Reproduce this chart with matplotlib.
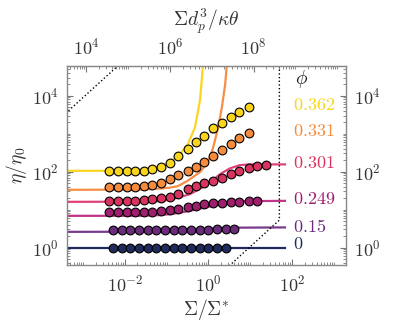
import numpy as np
import matplotlib
matplotlib.use("Agg")
import matplotlib.pyplot as plt
from matplotlib.ticker import LogLocator, NullFormatter, FixedLocator

plt.rcParams['font.family'] = 'serif'
plt.rcParams['font.serif'] = ['cmr10', 'DejaVu Serif']
plt.rcParams['mathtext.fontset'] = 'cm'
plt.rcParams['axes.formatter.use_mathtext'] = True

# volume fractions and colours
phi_labels = ['0', '0.15', '0.249', '0.301', '0.331', '0.362']
colors = ['#1f2b5c', '#6a2b7b', '#9d1f6d', '#d9335f', '#f58b3d', '#f9d51c']
line_colors = ['#1f2b5c', '#7a3a8c', '#c03586', '#e0417a', '#f68f45', '#fbd524']

# measured data, x = Sigma/Sigma*, y = eta/eta0
x_a = [0.0042, 0.0068, 0.0110, 0.0177, 0.0285, 0.0460, 0.0728, 0.120, 0.191,
       0.318, 0.502, 0.793, 1.28, 2.07, 3.46, 5.47, 9.18, 14.8, 23.8]
x_b = [0.0053, 0.0085, 0.0135, 0.0219, 0.0355, 0.0562, 0.0912, 0.148, 0.234,
       0.380, 0.617, 1.0, 1.58, 2.57, 4.17]

eta_000 = [1.0, 1.0, 1.0, 1.0, 1.0, 1.0, 1.0, 1.0, 1.0, 1.0, 1.0, 1.0, 1.0, 1.0]
eta_015 = [2.85, 2.85, 2.85, 2.86, 2.86, 2.87, 2.88, 2.9, 2.92, 2.94, 2.96,
           2.98, 3.0, 3.0, 3.0]
eta_249 = [8.4, 8.4, 8.4, 8.4, 8.4, 8.75, 9.1, 9.7, 10.3, 11.4, 12.4, 13.7,
           14.6, 15.1, 16.0, 16.0, 17.0, 17.0]
eta_301 = [16.7, 16.7, 16.7, 16.7, 17.8, 18.5, 19.7, 21.7, 25.6, 34, 41.5,
           48.9, 56.2, 68.7, 84.4, 107, 126, 137, 145]
eta_331 = [39.8, 39.8, 39.8, 39.8, 41.5, 45, 50.7, 62.3, 80.9, 105, 132, 181,
           260, 368, 529, 748, 1048]
eta_362 = [105, 105, 101, 101, 105, 114, 134, 171, 257, 391, 606, 875, 1371,
           1920, 2760, 3730, 5050]
err_362 = [0, 0, 0, 0, 0, 0, 0, 0, 0, 0, 0, 0, 260, 0, 0, 600, 0]

# model curves
lx_000 = [0.0003, 68]
ly_000 = [1.0, 1.0]
lx_015 = [0.0003, 0.05, 0.3, 1.5, 5.0, 68]
ly_015 = [2.6, 2.62, 2.8, 3.2, 3.35, 3.4]
lx_249 = [0.0003, 0.0229, 0.069, 0.12, 0.209, 0.50, 1.29, 3.24, 7.4, 68]
ly_249 = [6.87, 6.87, 7.17, 7.6, 8.3, 10, 12.6, 15.3, 16.7, 17]
lx_301 = [0.0003, 0.0229, 0.069, 0.12, 0.209, 0.363, 0.741, 1.20, 1.91, 3.24,
          5.62, 9.77, 68]
ly_301 = [16.0, 16.2, 16.7, 18.3, 21.3, 25.6, 39, 56, 86, 121, 148, 155, 155]
lx_331 = [0.0003, 0.0229, 0.069, 0.12, 0.186, 0.309, 0.631, 0.977, 1.29, 1.70,
          2.09, 2.51, 2.75]
ly_331 = [33.2, 33.6, 35.7, 37.9, 41.5, 56.2, 97, 178, 415, 1397, 4700, 18900,
          59700]
lx_362 = [0.0003, 0.0132, 0.0302, 0.0525, 0.0912, 0.135, 0.209, 0.324, 0.479,
          0.631, 0.741]
ly_362 = [105, 105, 109, 120, 153, 201, 289, 529, 1484, 7600, 59700]

# dotted guide lines
g1_x = [1e-4, 1e-2]
g1_y = [890, 89000]
g2_x = [2.0, 50, 50]
g2_y = [0.21, 5.3, 1e5]

# label positions
lab_x = 107
lab_y = [1.23, 3.7, 19.5, 170, 1180, 5600]

K = 8.3e6  # Sigma/Sigma* -> Sigma d_p^3 / kappa theta

fig = plt.figure(figsize=(3.98, 3.32), dpi=100)
ax = fig.add_axes([0.169, 0.202, 0.700, 0.599])

lines_x = [lx_000, lx_015, lx_249, lx_301, lx_331, lx_362]
lines_y = [ly_000, ly_015, ly_249, ly_301, ly_331, ly_362]
for lx, ly, c in zip(lines_x, lines_y, line_colors):
    ax.plot(lx, ly, color=c, lw=1.6, zorder=2)

ax.plot(g1_x, g1_y, ':', color='k', lw=1.0)
ax.plot(g2_x, g2_y, ':', color='k', lw=1.0)

pts = [(x_b, eta_000), (x_b, eta_015), (x_a, eta_249), (x_a, eta_301),
       (x_a, eta_331), (x_a, eta_362)]
for (px, py), c in zip(pts, colors):
    n = len(py)
    ax.plot(px[:n], py, 'o', ms=6.3, mfc=c, mec='k', mew=0.8, zorder=4)
ax.errorbar(x_a[:len(eta_362)], eta_362, yerr=err_362, fmt='none',
            ecolor='k', elinewidth=0.8, capsize=2.5, zorder=3)

for lab, yy, c in zip(phi_labels, lab_y, colors):
    ax.text(lab_x, yy, '$' + lab + '$', color=c, fontsize=13,
            ha='left', va='center')
ax.text(lab_x * 1.1, 28000, r'$\phi$', color='#222222', fontsize=14,
        ha='left', va='center')

ax.set_xscale('log')
ax.set_yscale('log')
ax.set_xlim(4.2e-4, 1950)
ax.set_ylim(0.35, 6.0e4)

ax.xaxis.set_major_locator(FixedLocator([1e-2, 1, 1e2]))
ax.yaxis.set_major_locator(FixedLocator([1, 1e2, 1e4]))
ax.xaxis.set_minor_locator(LogLocator(base=10, subs=np.arange(1, 10), numticks=30))
ax.yaxis.set_minor_locator(LogLocator(base=10, subs=np.arange(1, 10), numticks=30))
ax.xaxis.set_minor_formatter(NullFormatter())
ax.yaxis.set_minor_formatter(NullFormatter())

for s in ax.spines.values():
    s.set_color('#888888')
    s.set_linewidth(1.0)
ax.tick_params(which='both', direction='in', right=True, labelright=True,
               color='#777777', labelsize=13, labelcolor='#333333', pad=6)
ax.tick_params(which='major', length=4)
ax.tick_params(which='minor', length=2)

ax.set_xlabel(r'$\Sigma/\Sigma^{*}$', fontsize=14, color='#333333', labelpad=2)
ax.set_ylabel(r'$\eta/\eta_0$', fontsize=14, color='#333333', labelpad=2)

sec = ax.secondary_xaxis('top', functions=(lambda x: x * K, lambda x: x / K))
sec.set_xscale('log')
sec.xaxis.set_major_locator(FixedLocator([1e4, 1e6, 1e8]))
sec.xaxis.set_minor_locator(LogLocator(base=10, subs=np.arange(1, 10), numticks=30))
sec.xaxis.set_minor_formatter(NullFormatter())
sec.spines['top'].set_color('#888888')
sec.tick_params(which='both', direction='in', color='#777777', labelsize=13,
                labelcolor='#333333', pad=6)
sec.tick_params(which='major', length=4)
sec.tick_params(which='minor', length=2)
sec.set_xlabel(r'$\Sigma d_p^3/\kappa\theta$', fontsize=14, color='#333333',
               labelpad=8)

fig.savefig('out.png', dpi=100)
